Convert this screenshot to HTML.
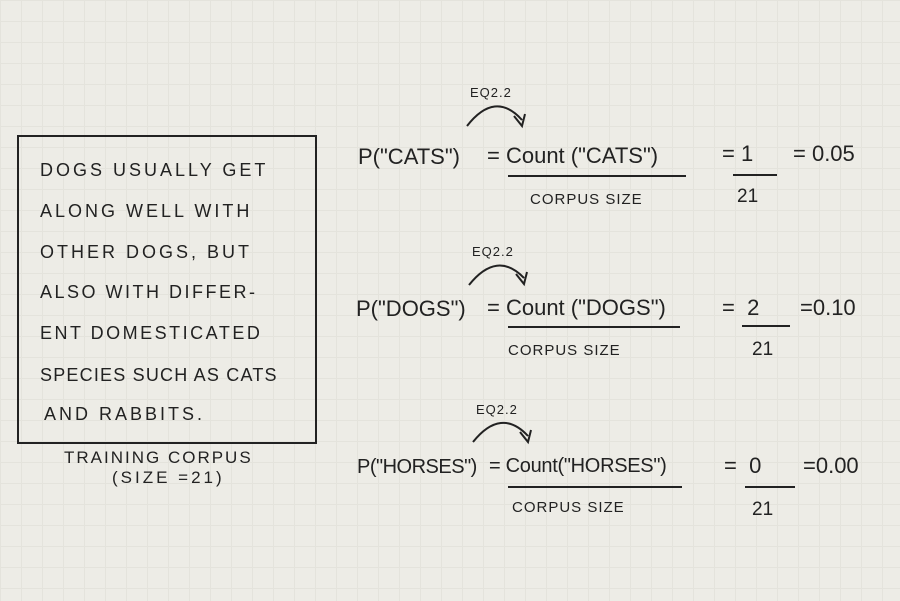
<!DOCTYPE html>
<html><head><style>
body{margin:0;width:900px;height:601px;overflow:hidden;background:#edece6;
background-image:linear-gradient(#e4e3dc 1px,transparent 1px),linear-gradient(90deg,#e4e3dc 1px,transparent 1px);background-size:21px 21px;
font-family:"Liberation Sans",sans-serif;color:#222;position:relative}
.t{position:absolute;white-space:nowrap;line-height:1}
.b{font-size:18px;letter-spacing:3px}
.e{font-size:22px}
.s{font-size:13px;letter-spacing:1px}
.l{position:absolute;height:2px;background:#222}
</style></head><body>
<div style="position:absolute;left:17px;top:135px;width:296px;height:305px;border:2px solid #222"></div>
<div class="t b" style="left:40px;top:161px">DOGS USUALLY GET</div>
<div class="t b" style="left:40px;top:202px">ALONG WELL WITH</div>
<div class="t b" style="left:40px;top:243px">OTHER DOGS, BUT</div>
<div class="t b" style="left:40px;top:283px;letter-spacing:2.5px">ALSO WITH DIFFER-</div>
<div class="t b" style="left:40px;top:324px;letter-spacing:2.5px">ENT DOMESTICATED</div>
<div class="t b" style="left:40px;top:366px;letter-spacing:1.2px">SPECIES SUCH AS CATS</div>
<div class="t b" style="left:44px;top:405px">AND RABBITS.</div>
<div class="t b" style="left:64px;top:449px;font-size:17px;letter-spacing:2px">TRAINING CORPUS</div>
<div class="t b" style="left:112px;top:469px;font-size:17px">(SIZE =21)</div>

<svg style="position:absolute;left:0;top:0" width="900" height="601" fill="none" stroke="#222" stroke-width="2">
<path d="M467 126 Q495 90 522 120 M514 116 L522 126 L525 114"/>
<path d="M469 285 Q497 250 524 278 M516 274 L524 284 L527 272"/>
<path d="M473 442 Q501 407 528 436 M520 432 L528 442 L531 430"/>
</svg>

<div class="t s" style="left:470px;top:86px">EQ2.2</div>
<div class="t e" style="left:358px;top:146px">P("CATS")</div>
<div class="t e" style="left:487px;top:145px">= Count ("CATS")</div>
<div class="l" style="left:508px;top:175px;width:178px"></div>
<div class="t s" style="left:530px;top:192px;font-size:15px">CORPUS SIZE</div>
<div class="t e" style="left:722px;top:143px">= 1</div>
<div class="l" style="left:733px;top:174px;width:44px"></div>
<div class="t e" style="left:737px;top:187px;font-size:19px">21</div>
<div class="t e" style="left:793px;top:143px">= 0.05</div>

<div class="t s" style="left:472px;top:245px">EQ2.2</div>
<div class="t e" style="left:356px;top:298px">P("DOGS")</div>
<div class="t e" style="left:487px;top:297px">= Count ("DOGS")</div>
<div class="l" style="left:508px;top:326px;width:172px"></div>
<div class="t s" style="left:508px;top:343px;font-size:15px">CORPUS SIZE</div>
<div class="t e" style="left:722px;top:297px">= &nbsp;2</div>
<div class="l" style="left:742px;top:325px;width:48px"></div>
<div class="t e" style="left:752px;top:340px;font-size:19px">21</div>
<div class="t e" style="left:800px;top:297px">=0.10</div>

<div class="t s" style="left:476px;top:403px">EQ2.2</div>
<div class="t e" style="left:357px;top:457px;font-size:20px;letter-spacing:-0.5px">P("HORSES")</div>
<div class="t e" style="left:489px;top:456px;font-size:20px;letter-spacing:-0.3px">= Count("HORSES")</div>
<div class="l" style="left:508px;top:486px;width:174px"></div>
<div class="t s" style="left:512px;top:500px;font-size:15px">CORPUS SIZE</div>
<div class="t e" style="left:724px;top:455px">= &nbsp;0</div>
<div class="l" style="left:745px;top:486px;width:50px"></div>
<div class="t e" style="left:752px;top:500px;font-size:19px">21</div>
<div class="t e" style="left:803px;top:455px">=0.00</div>
</body></html>
